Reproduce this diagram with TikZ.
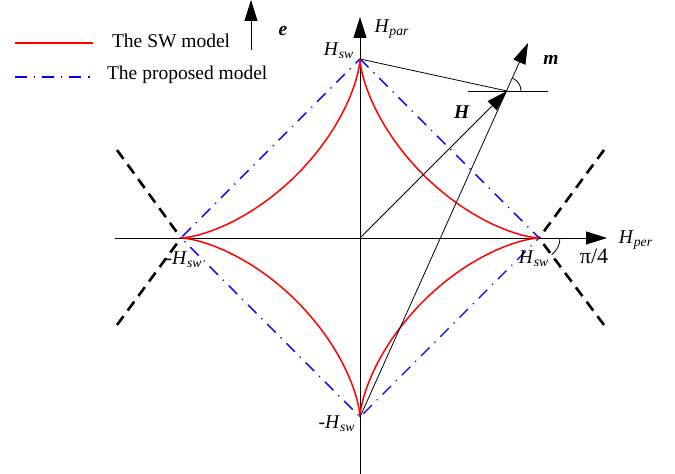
\documentclass[tikz,border=0pt]{standalone}
\usepackage{fontspec}
\setmainfont{Liberation Serif}
\usepackage{tikz}
\usetikzlibrary{arrows.meta}

\begin{document}
\begin{tikzpicture}[x=0.5pt, y=0.5pt, font=\fontsize{9.75}{11}\selectfont,
	head/.style={-{Triangle[length=10.5pt, width=6.5pt]}},
	swline/.style={red, line width=0.75pt},
	propline/.style={blue, line width=0.7pt, dash pattern=on 6pt off 3.5pt on 0.6pt off 3.5pt},
	boundline/.style={line width=1.3pt, dash pattern=on 5.5pt off 3.5pt}]
	\useasboundingbox (0, 0) rectangle (675, 474);
	% Points:
	\coordinate (O) at (360, 236);
	\coordinate (T) at (360, 415);
	\coordinate (B) at (360, 57);
	\coordinate (L) at (181, 236);
	\coordinate (R) at (539, 236);
	\coordinate (P) at (507, 383);
	\coordinate (M) at (528, 431);
	\coordinate (parbot) at (360, 0);
	\coordinate (partop) at (360, 457);
	\coordinate (perleft) at (115, 236);
	\coordinate (perright) at (607, 236);
	\coordinate (hleft) at (468, 383);
	\coordinate (hright) at (548, 383);
	\coordinate (ebot) at (251, 424);
	\coordinate (etop) at (251, 474);
	\coordinate (ul) at (117, 324);
	\coordinate (dl) at (117, 149);
	\coordinate (ur) at (604, 324);
	\coordinate (dr) at (604, 149);
	\coordinate (swa) at (15, 431);
	\coordinate (swb) at (93, 431);
	\coordinate (pra) at (15, 397);
	\coordinate (prb) at (93, 397);
	% Axes:
	\draw[head] (parbot) -- (partop);
	\draw[head] (perleft) -- (perright);
	\draw[head] (ebot) -- (etop);
	% Boundaries:
	\draw[boundline] (ul) -- (L);
	\draw[boundline] (dl) -- (L);
	\draw[boundline] (ur) -- (R);
	\draw[boundline] (dr) -- (R);
	\draw[propline] (T) -- (R) -- (B) -- (L) -- cycle;
	\draw[swline] plot[domain=0:360, samples=241]
		({360+179*cos(\x)*cos(\x)*cos(\x)}, {236+179*sin(\x)*sin(\x)*sin(\x)});
	% Field and magnetization:
	\draw (T) -- (P);
	\draw (hleft) -- (hright);
	\draw[head] (O) -- (P);
	\draw[head] (B) -- (M);
	\draw (P) ++(14, 0) arc[start angle=0, end angle=65.6, radius=14];
	\draw (R) ++(21, 0) arc[start angle=0, end angle=-53, radius=21];
	% Legend:
	\draw[swline] (swa) -- (swb);
	\draw[propline] (pra) -- (prb);
	\node[anchor=base west] (swtext) at (105, 426) {The SW model};
	\node[anchor=base west] (prtext) at (100, 394) {The proposed model};
	% Labels:
	\node (elabel) at (283, 443) {\textbf{\textit{e}}};
	\node (Hpar) at (392, 445) {\textit{H}\textsubscript{\textit{par}}};
	\node (Hper) at (636, 234) {\textit{H}\textsubscript{\textit{per}}};
	\node (Htop) at (339, 423) {\textit{H}\textsubscript{\textit{sw}}};
	\node (Hright) at (534, 215) {\textit{H}\textsubscript{\textit{sw}}};
	\node (Hleft) at (184, 214) {-\textit{H}\textsubscript{\textit{sw}}};
	\node (Hbot) at (337, 50) {-\textit{H}\textsubscript{\textit{sw}}};
	\node (mlabel) at (551, 414) {\textbf{\textit{m}}};
	\node (Hlabel) at (462, 362) {\textbf{\textit{H}}};
	\node[font=\fontsize{11}{12}\selectfont] (angle) at (594, 218) {π/4};
\end{tikzpicture}
\end{document}
